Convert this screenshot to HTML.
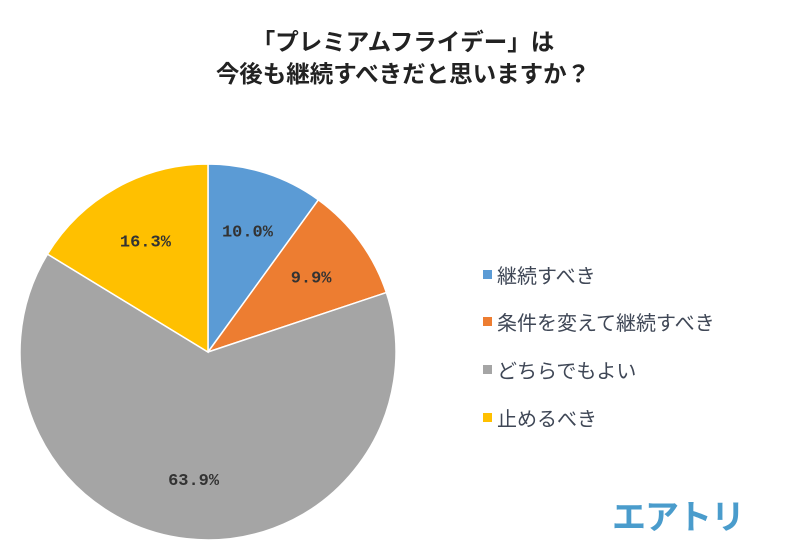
<!DOCTYPE html>
<html><head><meta charset="utf-8"><style>
body{margin:0;width:806px;height:546px;background:#fff;overflow:hidden;font-family:"Liberation Sans","Noto Sans CJK JP",sans-serif}
.t{position:absolute;left:0;width:806px;text-align:center;font-weight:bold;font-size:23.5px;color:#222}
.lg{position:absolute;left:483px;font-size:20px;color:#3f4756;display:flex;align-items:center;white-space:nowrap}
.lg i{display:inline-block;width:9px;height:9px;margin-right:5px}
</style></head><body>
<div class="t" style="top:23px">「プレミアムフライデー」は</div>
<div class="t" style="top:55px">今後も継続すべきだと思いますか？</div>
<svg id="pie" width="806" height="546" style="position:absolute;left:0;top:0"></svg>
<div id="legend"></div>
<div style="position:absolute;left:612px;top:490px;font-size:34px;font-weight:bold;color:#4a9ccc;letter-spacing:-1px">エアトリ</div>
<script>
const categories=["継続すべき","条件を変えて継続すべき","どちらでもよい","止めるべき"];
const values=[10.0,9.9,63.9,16.3];
const labels=["10.0%","9.9%","63.9%","16.3%"];
const colors=["#5b9bd5","#ed7d31","#a5a5a5","#ffc000"];
const cx=208,cy=352,r=188;
const svg=document.getElementById('pie');
const NS="http://www.w3.org/2000/svg";
const total=values.reduce((a,b)=>a+b,0);
let a0=0;
values.forEach((v,i)=>{
  const a1=a0+v/total*2*Math.PI;
  const p=a=>[cx+r*Math.sin(a),cy-r*Math.cos(a)];
  const [x0,y0]=p(a0),[x1,y1]=p(a1);
  const path=document.createElementNS(NS,'path');
  path.setAttribute('d',`M${cx},${cy}L${x0},${y0}A${r},${r} 0 ${a1-a0>Math.PI?1:0} 1 ${x1},${y1}Z`);
  path.setAttribute('fill',colors[i]);path.setAttribute('stroke','#fff');path.setAttribute('stroke-width','1.5');
  
  
  svg.appendChild(path);
  const am=(a0+a1)/2,lr=r*0.68;
  const t=document.createElementNS(NS,'text');
  t.setAttribute('x',cx+lr*Math.sin(am));t.setAttribute('y',cy-lr*Math.cos(am)+6);
  t.setAttribute('text-anchor','middle');t.setAttribute('font-size','17');t.setAttribute('fill','#333');t.setAttribute('font-weight','bold');
  t.setAttribute('font-family','"Liberation Mono",monospace');
  t.textContent=labels[i];
  
  
  svg.appendChild(t);
  a0=a1;
});
const lg=document.getElementById('legend');
const ly=[260,307,355,403];
categories.forEach((c,i)=>{
  const d=document.createElement('div');d.className='lg';d.style.top=ly[i]+'px';
  d.innerHTML=`<i style="background:${colors[i]}"></i>${c}`;
  
  
  lg.appendChild(d);
});
</script>
</body></html>
